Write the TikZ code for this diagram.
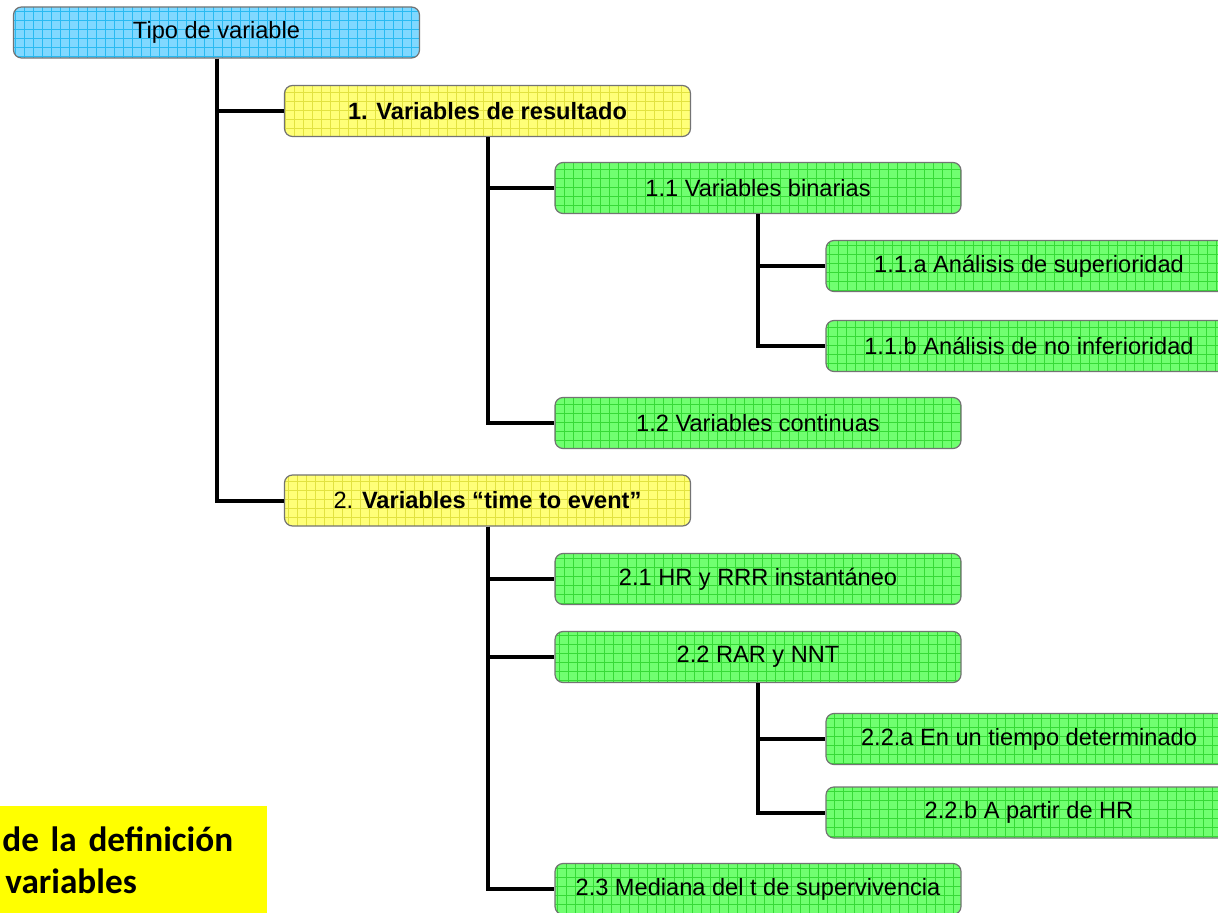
\documentclass[tikz,border=0pt]{standalone}
\usepackage{fontspec}
\setmainfont{Liberation Sans}
\newfontfamily\notefont{Carlito}
\usetikzlibrary{positioning}

\definecolor{topfill}{HTML}{80D8FF}
\definecolor{topgrid}{HTML}{28BAF2}
\definecolor{resfill}{HTML}{FFFF78}
\definecolor{resgrid}{HTML}{E2E240}
\definecolor{subfill}{HTML}{70FF70}
\definecolor{subgrid}{HTML}{36DA36}
\definecolor{notefill}{HTML}{FFFF00}

\tikzset{
  gridfill/.style 2 args={path picture={
      \fill[#1] (path picture bounding box.south west) rectangle (path picture bounding box.north east);
      \draw[#2, line width=0.5pt, step=4.5pt] (path picture bounding box.south west) grid (path picture bounding box.north east);}},
  box/.style={draw=black!55, line width=0.6pt, rounded corners=4pt, minimum width=203pt, minimum height=25.5pt,
    inner sep=0pt, font=\fontsize{11.8}{13}\selectfont},
  topbox/.style={box, gridfill={topfill}{topgrid}},
  resbox/.style={box, gridfill={resfill}{resgrid}},
  subbox/.style={box, gridfill={subfill}{subgrid}},
  link/.style={line width=2pt}
}

\begin{document}
\begin{tikzpicture}[x=0.5pt, y=-0.5pt]
   \clip (0,0) rectangle (1218,913);
   % boxes
   \node[topbox] (tipo) at (216.5,32.5) {Tipo de variable};
   \node[resbox] (res) at (487.5,111) {\bfseries 1. Variables de resultado};
   \node[subbox] (bin) at (758,188) {1.1 Variables binarias};
   \node[subbox] (sup) at (1029,266) {1.1.a Análisis de superioridad};
   \node[subbox] (noinf) at (1029,346) {1.1.b Análisis de no inferioridad};
   \node[subbox] (cont) at (758,423) {1.2 Variables continuas};
   \node[resbox] (tte) at (487.5,500.5) {2. \textbf{Variables “time to event”}};
   \node[subbox] (hr) at (758,579) {2.1 HR y RRR instantáneo};
   \node[subbox] (rar) at (758,657) {2.2 RAR y NNT};
   \node[subbox] (tdet) at (1029,739) {2.2.a En un tiempo determinado};
   \node[subbox] (phr) at (1029,812.5) {2.2.b A partir de HR};
   \node[subbox] (med) at (758,889) {2.3 Mediana del t de supervivencia};
   % connectors
   \draw[link] (tipo.south) |- (res.west);
   \draw[link] (tipo.south) |- (tte.west);
   \draw[link] (res.south) |- (bin.west);
   \draw[link] (res.south) |- (cont.west);
   \draw[link] (bin.south) |- (sup.west);
   \draw[link] (bin.south) |- (noinf.west);
   \draw[link] (tte.south) |- (hr.west);
   \draw[link] (tte.south) |- (rar.west);
   \draw[link] (tte.south) |- (med.west);
   \draw[link] (rar.south) |- (tdet.west);
   \draw[link] (rar.south) |- (phr.west);
   % note
   \node[anchor=north west, fill=notefill, minimum width=133.5pt, minimum height=54pt, inner xsep=1pt, inner ysep=0pt,
     text width=131.5pt, align=left, font=\notefont\bfseries\fontsize{17.6}{21}\selectfont] (note) at (0,806)
     {de la definición\\ \hspace*{1.5pt}variables};
\end{tikzpicture}
\end{document}
